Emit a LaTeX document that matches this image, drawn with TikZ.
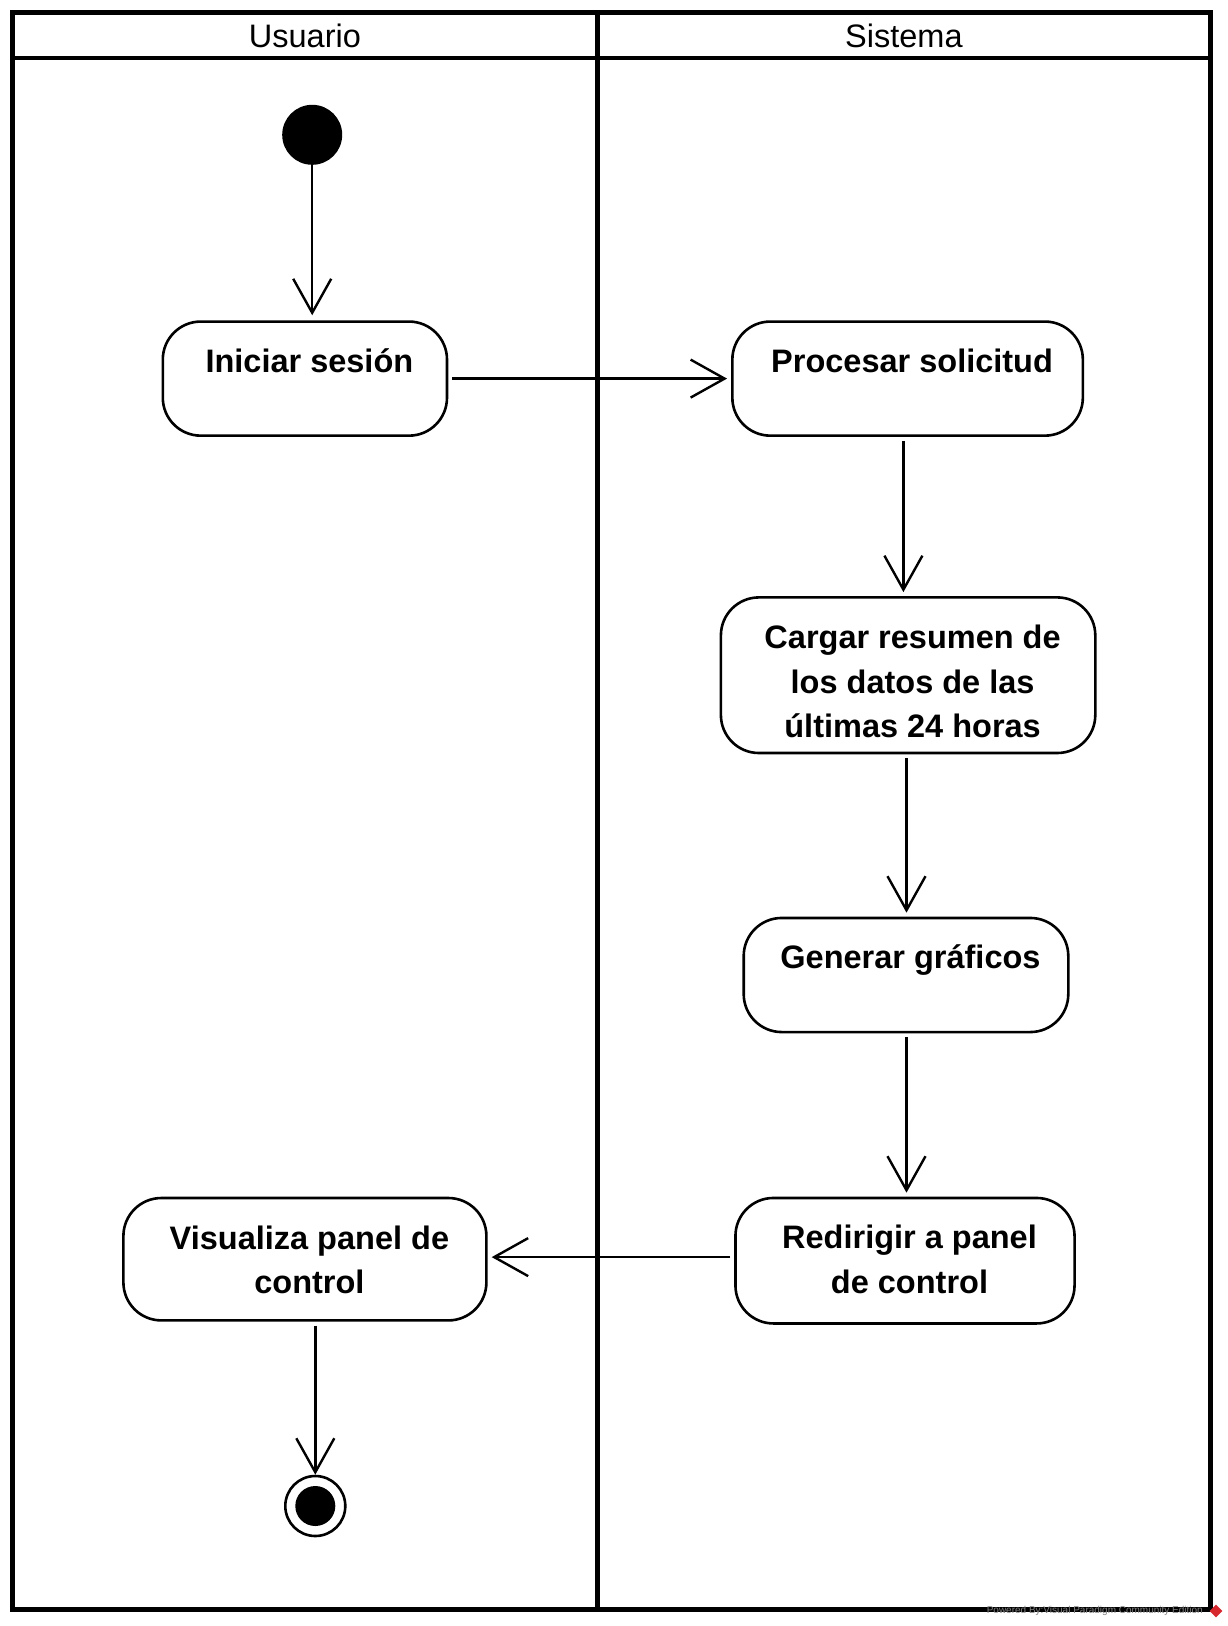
\documentclass[tikz,border=0pt]{standalone}
\usepackage{fontspec}
\setmainfont{Liberation Sans}
\usetikzlibrary{arrows.meta,calc}
\newcommand\actfont{\fontsize{32.5}{44.6}\selectfont\bfseries}
\newcommand\lanefont{\fontsize{32.5}{39}\selectfont}
\newcommand\toptext[2]{\rule[-\dimexpr#1-51pt\relax]{0pt}{#1}\hspace*{9pt}\begin{tabular}[t]{@{}c@{}}#2\end{tabular}}
\definecolor{vpred}{RGB}{215,40,45}
\begin{document}
\begin{tikzpicture}[x=1pt,y=-1pt,
  lane/.style={line width=4.5pt},
  act/.style={draw, line width=2.6pt, rounded corners=38pt, inner sep=0pt, font=\actfont},
  flow/.style={line width=2.4pt, -{Straight Barb[length=34pt,width=38pt]}},
  lanehead/.style={font=\lanefont, inner sep=0pt}
  ]
\useasboundingbox (0,0) rectangle (1227,1626);
% swimlane frame
\draw[lane] (12.4,12.4) rectangle (1210.4,1609.7);
\draw[lane] (12.4,58.1) -- (1210.4,58.1);
\draw[lane] (597.4,12.4) -- (597.4,1609.7);
\node[lanehead] (hu) at (304.9,36.3) {Usuario};
\node[lanehead] (hs) at (903.9,36.3) {Sistema};
% nodes
\node[circle, fill=black, minimum size=60pt, inner sep=0pt] (init) at (312.2,134.8) {};
\node[act, minimum width=284.2pt, minimum height=114.1pt] (ini) at (304.9,378.6) {\toptext{114.1pt}{Iniciar sesión}};
\node[act, minimum width=350.5pt, minimum height=114.1pt] (proc) at (907.6,378.6) {\toptext{114.1pt}{Procesar solicitud}};
\node[act, minimum width=374.4pt, minimum height=155.6pt] (carg) at (908.1,675.2) {\toptext{155.6pt}{Cargar resumen de\\los datos de las\\últimas 24 horas}};
\node[act, minimum width=324.6pt, minimum height=114.1pt] (gen) at (906,975) {\toptext{114.1pt}{Generar gráficos}};
\node[act, minimum width=339.1pt, minimum height=125.5pt] (redir) at (905,1260.7) {\toptext{125.5pt}{Redirigir a panel\\de control}};
\node[act, minimum width=363pt, minimum height=122.4pt] (vis) at (304.9,1259.2) {\toptext{122.4pt}{Visualiza panel de\\control}};
\node[circle, draw, line width=2.6pt, minimum size=60pt, inner sep=0pt] (fin) at (315.3,1506) {};
\fill (fin.center) circle (20pt);
% connectors
\draw[flow, shorten >=5pt] (init.south) -- (init.south |- ini.north);
\draw[flow, shorten <=4pt, shorten >=4pt] (ini.east) -- (proc.west);
\draw[flow, shorten <=4pt, shorten >=4pt] ([xshift=-4.2pt]proc.south) -- ([xshift=-4.2pt]proc.south |- carg.north);
\draw[flow, shorten <=4pt, shorten >=4pt] ([xshift=-1.6pt]carg.south) -- ([xshift=-1.6pt]carg.south |- gen.north);
\draw[flow, shorten <=4pt, shorten >=4pt] ([xshift=0.5pt]gen.south) -- ([xshift=0.5pt]gen.south |- redir.north);
\draw[flow, shorten <=4pt, shorten >=4pt] ([yshift=3.6pt]redir.west) -- ([yshift=3.6pt]redir.west -| vis.east);
\draw[flow, shorten <=4pt] (fin |- vis.south) -- (fin.north);
% watermark
\node[font=\fontsize{10}{12}\selectfont, text=gray, anchor=base east, inner sep=0pt] (wm) at (1203,1613) {Powered By:Visual Paradigm Community Edition};
\node[fill=vpred, rotate=45, minimum size=9pt, inner sep=0pt] (logo) at (1216,1611) {};
\end{tikzpicture}
\end{document}
